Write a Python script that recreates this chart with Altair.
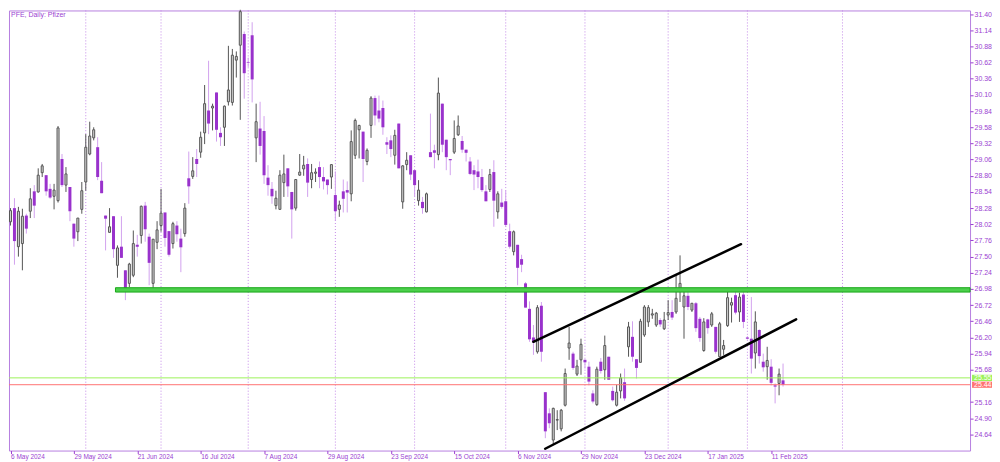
import json
import altair as alt
import pandas as pd

# ---- OHLC data (PFE daily, one entry per trading day from 6 May 2024) ----
opens = [28.06, 28.28, 27.66, 27.71, 28.16, 28.23, 28.55, 28.54, 28.85, 28.81,
         28.59, 28.47, 28.40, 29.07, 28.65, 28.62, 28.03, 27.90, 28.26, 28.70,
         29.15, 29.41, 29.26, 28.72, 28.16, 27.89, 28.15, 27.36, 27.66, 27.28,
         27.07, 27.20, 27.69, 27.84, 28.32, 27.82, 27.07, 27.73, 28.00, 28.21,
         27.91, 27.71, 28.00, 27.79, 27.87, 28.76, 28.79, 29.07, 29.18, 29.49,
         29.85, 29.89, 30.14, 29.49, 29.58, 29.99, 29.98, 30.66, 30.90, 31.08,
         30.63, 31.06, 29.41, 29.56, 29.52, 28.77, 28.59, 28.32, 28.26, 28.69,
         28.92, 28.54, 28.28, 28.81, 28.91, 28.99, 28.74, 28.84, 28.94, 28.78,
         28.74, 28.78, 28.49, 28.26, 28.55, 28.57, 28.51, 29.13, 29.54, 29.51,
         29.03, 29.61, 30.05, 29.85, 29.89, 29.34, 29.37, 29.13, 29.64, 28.38,
         28.98, 29.13, 28.89, 28.40, 28.38, 28.22, 29.18, 29.21, 29.14, 29.96,
         29.38, 29.07, 29.18, 29.46, 29.36, 29.22, 29.03, 28.89, 28.87, 28.78,
         28.55, 28.58, 28.86, 28.22, 28.37, 28.39, 27.91, 27.58, 27.69, 27.46,
         27.07, 26.66, 26.20, 25.97, 26.71, 25.32, 24.98, 24.55, 24.87, 24.73,
         25.11, 26.03, 25.94, 25.61, 25.84, 25.84, 25.73, 25.30, 25.12, 25.81,
         25.68, 25.89, 25.34, 25.11, 25.34, 25.48, 26.05, 26.21, 25.85, 25.80,
         26.24, 26.45, 26.56, 26.40, 26.48, 26.34, 26.56, 26.61, 26.61, 26.96,
         26.69, 26.87, 26.64, 26.75, 26.50, 25.99, 26.49, 26.40, 26.37, 25.89,
         26.01, 26.39, 26.72, 26.88, 26.61, 26.89, 26.20, 26.18, 25.95, 26.32,
         25.81, 25.73, 25.73, 25.43, 25.46, 25.51]
highs = [28.28, 28.44, 28.30, 28.27, 28.19, 28.60, 28.65, 28.92, 28.99, 28.81,
         28.67, 28.67, 29.60, 29.15, 28.94, 28.62, 28.03, 28.12, 28.70, 29.47,
         29.67, 29.58, 29.42, 29.02, 28.16, 28.28, 28.15, 27.68, 28.15, 27.28,
         27.40, 27.92, 27.85, 28.32, 28.38, 27.87, 27.78, 28.07, 28.59, 28.21,
         27.91, 28.06, 28.07, 27.95, 28.36, 29.19, 29.10, 29.23, 29.51, 30.26,
         30.65, 29.96, 30.14, 29.58, 29.93, 30.89, 30.84, 30.80, 31.47, 31.12,
         30.70, 31.27, 29.96, 29.99, 29.76, 28.97, 28.70, 28.56, 28.89, 29.14,
         28.92, 28.54, 28.74, 29.15, 29.12, 29.08, 28.99, 28.92, 29.03, 28.94,
         28.74, 28.98, 28.87, 28.40, 28.74, 28.71, 29.53, 29.72, 29.62, 29.51,
         29.24, 30.08, 30.09, 30.09, 30.01, 29.42, 29.45, 29.54, 29.64, 28.97,
         29.18, 29.13, 28.89, 28.73, 28.46, 28.53, 29.80, 29.30, 30.38, 29.96,
         29.38, 29.07, 29.69, 29.77, 29.44, 29.22, 29.10, 28.97, 29.06, 28.91,
         28.65, 28.91, 29.05, 28.55, 28.59, 28.56, 28.03, 27.92, 27.69, 27.53,
         27.09, 26.78, 26.40, 26.72, 26.77, 25.32, 25.06, 25.07, 25.03, 25.05,
         25.70, 26.37, 25.97, 25.84, 26.18, 25.85, 25.81, 25.35, 25.73, 25.87,
         26.23, 25.89, 25.41, 25.44, 25.62, 25.70, 26.45, 26.46, 25.85, 26.50,
         26.72, 26.72, 26.66, 26.61, 26.51, 26.61, 26.80, 26.80, 27.20, 27.52,
         26.96, 26.94, 26.75, 26.77, 26.53, 26.51, 26.50, 26.61, 26.37, 26.45,
         26.16, 26.94, 26.84, 26.93, 26.92, 26.93, 26.22, 26.85, 26.62, 26.33,
         25.94, 26.05, 25.85, 25.46, 25.70, 25.78]
lows = [28.00, 27.37, 27.50, 27.28, 27.87, 28.12, 28.12, 28.53, 28.78, 28.48,
        28.43, 28.26, 28.37, 28.62, 28.54, 28.07, 27.66, 27.75, 28.19, 28.56,
        29.13, 29.37, 28.73, 28.52, 27.60, 27.89, 27.48, 27.16, 27.48, 26.80,
        27.01, 27.17, 27.50, 27.71, 27.74, 27.04, 27.00, 27.62, 27.90, 27.66,
        27.50, 27.63, 27.74, 27.25, 27.82, 28.35, 28.75, 28.78, 29.09, 29.31,
        29.47, 29.53, 29.35, 29.28, 29.28, 29.93, 29.93, 30.38, 29.70, 30.04,
        30.55, 29.98, 29.02, 29.14, 28.67, 28.48, 28.35, 28.26, 28.26, 28.46,
        28.46, 27.79, 28.24, 28.80, 28.80, 28.46, 28.60, 28.70, 28.60, 28.58,
        28.50, 28.59, 28.08, 28.14, 28.21, 28.21, 28.39, 29.07, 29.08, 28.70,
        28.97, 29.41, 29.61, 29.66, 29.46, 29.15, 29.10, 28.98, 28.92, 28.27,
        28.89, 28.73, 28.46, 28.32, 28.19, 28.21, 29.10, 28.92, 29.05, 29.18,
        28.89, 28.81, 29.15, 29.44, 29.17, 29.03, 28.81, 28.57, 28.60, 28.54,
        28.39, 28.54, 27.98, 28.11, 28.27, 27.98, 27.63, 27.52, 27.04, 27.25,
        26.68, 26.13, 25.92, 25.94, 25.81, 24.58, 24.74, 24.48, 24.71, 24.69,
        25.09, 25.84, 25.68, 25.58, 25.60, 25.70, 25.43, 25.14, 25.10, 25.62,
        25.52, 25.52, 25.17, 25.09, 25.22, 25.18, 25.89, 25.81, 25.54, 25.80,
        26.21, 26.37, 26.50, 26.37, 26.37, 26.32, 26.48, 26.48, 26.58, 26.77,
        26.18, 26.64, 26.61, 26.29, 26.13, 25.97, 26.26, 26.37, 25.94, 25.89,
        25.92, 26.37, 26.44, 26.57, 26.45, 26.35, 26.17, 25.62, 25.70, 25.78,
        25.65, 25.52, 25.43, 25.14, 25.27, 25.41]
closes = [28.24, 27.75, 28.23, 28.15, 27.95, 28.43, 28.32, 28.81, 28.96, 28.55,
          28.45, 28.57, 29.57, 28.65, 28.83, 28.23, 27.79, 28.12, 28.56, 29.26,
          29.44, 29.54, 28.78, 28.52, 28.11, 27.98, 27.62, 27.64, 27.48, 26.99,
          27.38, 27.71, 27.66, 28.31, 27.94, 27.40, 27.78, 27.93, 28.20, 27.80,
          27.53, 28.03, 27.86, 27.65, 28.28, 28.63, 28.88, 28.99, 29.42, 29.96,
          29.64, 29.92, 29.54, 29.42, 29.92, 30.18, 30.74, 30.72, 31.44, 30.45,
          30.62, 30.35, 29.67, 29.28, 28.81, 28.65, 28.47, 28.44, 28.81, 28.83,
          28.63, 28.26, 28.74, 28.86, 28.97, 28.69, 28.85, 28.86, 28.78, 28.71,
          28.65, 28.98, 28.23, 28.33, 28.43, 28.53, 29.35, 29.69, 29.61, 29.07,
          29.21, 30.05, 29.77, 29.72, 29.58, 29.30, 29.23, 29.45, 28.92, 28.96,
          29.05, 28.82, 28.65, 28.57, 28.28, 28.51, 29.10, 29.17, 30.13, 29.30,
          29.10, 29.05, 29.40, 29.60, 29.22, 29.17, 28.83, 28.82, 28.78, 28.57,
          28.39, 28.82, 28.40, 28.51, 28.30, 28.01, 27.66, 27.90, 27.32, 27.37,
          26.68, 26.17, 26.12, 26.68, 25.97, 24.69, 24.82, 25.06, 24.88, 25.03,
          25.62, 26.11, 25.71, 25.74, 26.09, 25.80, 25.49, 25.17, 25.69, 25.66,
          26.07, 25.52, 25.19, 25.32, 25.55, 25.22, 26.37, 25.89, 25.71, 26.46,
          26.69, 26.68, 26.58, 26.59, 26.41, 26.48, 26.60, 26.52, 26.83, 27.07,
          26.87, 26.69, 26.75, 26.35, 26.19, 26.45, 26.35, 26.58, 25.97, 26.42,
          26.07, 26.84, 26.76, 26.60, 26.85, 26.45, 26.18, 25.86, 26.45, 25.90,
          25.72, 25.83, 25.47, 25.41, 25.61, 25.44]

# ---- axis labels ----
tick_bars = [0, 16, 32, 48, 64, 80, 96, 112, 128, 144, 160, 176, 192]
tick_labels = ["6 May 2024", "29 May 2024", "21 Jun 2024", "16 Jul 2024",
               "7 Aug 2024", "29 Aug 2024", "23 Sep 2024", "15 Oct 2024",
               "6 Nov 2024", "29 Nov 2024", "23 Dec 2024", "17 Jan 2025",
               "11 Feb 2025"]
price_ticks = [31.40, 31.14, 30.88, 30.62, 30.36, 30.10, 29.84, 29.58, 29.32,
               29.06, 28.80, 28.54, 28.28, 28.02, 27.76, 27.50, 27.24, 26.98,
               26.72, 26.46, 26.20, 25.94, 25.68, 25.16, 24.90, 24.64]
month_start_bars = [19, 38, 60, 82, 102, 125, 145, 166, 186, 210]

# ---- drawn objects ----
zone_start_bar = [26.5]
zone_low = [26.93]
zone_high = [27.00]
level_prices = [25.55, 25.44]
level_names = ["green", "red"]
trend_x1 = [131.97, 134.96]
trend_y1 = [26.13, 24.41]
trend_x2 = [184.4, 198.3]
trend_y2 = [27.70, 26.49]
chart_title = "PFE, Daily:  Pfizer"

# ---- styles ----
TXT = "#9b3fd2"
FRAME = "#b77fe0"
GRID = "#c48ae8"
BEAR = "#9932cc"
BEAR_WICK = "#d2a2ee"
BULL_FILL = "#d4d4d4"
BULL_LINE = "#555555"
FONT = "Liberation Sans"
W, H = 963, 441

df = pd.DataFrame({"bar": list(range(len(opens))), "open": opens,
                   "high": highs, "low": lows, "close": closes})

xs = alt.Scale(domain=[-0.378, 242.2], nice=False, zero=False, padding=0)
ys = alt.Scale(domain=[24.381, 31.459], nice=False, zero=False, padding=0)

label_expr = f"{json.dumps(tick_labels)}[indexof({json.dumps(tick_bars)}, datum.value)]"
x_axis = alt.Axis(values=tick_bars, labelExpr=label_expr, orient="bottom",
                  title=None, grid=False, domain=False, tickSize=3,
                  tickColor=TXT, labelColor=TXT, labelFont=FONT,
                  labelFontSize=6.5, labelAlign="left", labelBaseline="top",
                  labelPadding=0, labelFlush=False, labelOverlap=False,
                  labelBound=False)
y_axis = alt.Axis(values=price_ticks, format=".2f", orient="right",
                  title=None, grid=False, domain=False, tickSize=3,
                  tickColor=TXT, labelColor=TXT, labelFont=FONT,
                  labelFontSize=7, labelPadding=1, labelFlush=False,
                  labelOverlap=False, labelBound=False)

X = alt.X("bar:Q", scale=xs, axis=x_axis)

base = alt.Chart(df)

months = alt.Chart(pd.DataFrame({"bar": month_start_bars})).mark_rule(
    color=GRID, strokeWidth=1, strokeDash=[1, 2]).encode(x=X)

wick_bull = base.transform_filter("datum.close >= datum.open").mark_rule(
    color=BULL_LINE, strokeWidth=1).encode(
    x=X, y=alt.Y("low:Q", scale=ys, axis=y_axis), y2="high:Q")
wick_bear = base.transform_filter("datum.close < datum.open").mark_rule(
    color=BEAR_WICK, strokeWidth=1).encode(
    x=X, y=alt.Y("low:Q", scale=ys, axis=y_axis), y2="high:Q")
body_bull = base.transform_filter("datum.close >= datum.open").mark_bar(
    size=2, fill=BULL_FILL, stroke=BULL_LINE, strokeWidth=1).encode(
    x=X, y=alt.Y("open:Q", scale=ys, axis=y_axis), y2="close:Q")
body_bear = base.transform_filter("datum.close < datum.open").mark_bar(
    size=3, fill=BEAR, strokeWidth=0).encode(
    x=X, y=alt.Y("open:Q", scale=ys, axis=y_axis), y2="close:Q")

zone = alt.Chart(pd.DataFrame({"bar": zone_start_bar, "lo": zone_low,
                               "hi": zone_high})).mark_rect(
    fill="#4ccf4c", stroke="#18a818", strokeWidth=1).encode(
    x=X, x2=alt.value(W), y=alt.Y("lo:Q", scale=ys, axis=y_axis), y2="hi:Q")

levels_df = pd.DataFrame({"price": level_prices, "name": level_names})
level_colors = alt.Scale(domain=level_names, range=["#9cf25a", "#ff7373"])
levels = alt.Chart(levels_df).mark_rule(strokeWidth=1).encode(
    y=alt.Y("price:Q", scale=ys, axis=y_axis),
    color=alt.Color("name:N", scale=level_colors, legend=None))

trends = alt.Chart(pd.DataFrame({"x1": trend_x1, "y1": trend_y1,
                                 "x2": trend_x2, "y2": trend_y2})).mark_rule(
    color="black", strokeWidth=2.5, strokeCap="round").encode(
    x=alt.X("x1:Q", scale=xs, axis=x_axis), x2="x2:Q",
    y=alt.Y("y1:Q", scale=ys, axis=y_axis), y2="y2:Q")

box_colors = alt.Scale(domain=level_names, range=["#7ee03a", "#f01818"])
boxes = alt.Chart(levels_df).transform_calculate(
    lo="datum.price - 0.05", hi="datum.price + 0.05").mark_rect().encode(
    x=alt.value(W + 2), x2=alt.value(W + 22),
    y=alt.Y("lo:Q", scale=ys, axis=y_axis), y2="hi:Q",
    color=alt.Color("name:N", scale=box_colors, legend=None))
box_text = alt.Chart(levels_df).mark_text(
    align="left", baseline="middle", font=FONT, fontSize=7,
    color="white").encode(
    x=alt.value(W + 4), y=alt.Y("price:Q", scale=ys, axis=y_axis),
    text=alt.Text("price:Q", format=".2f"))

title = alt.Chart(pd.DataFrame({"t": [chart_title]})).mark_text(
    align="left", baseline="middle", font=FONT, fontSize=7, color=TXT).encode(
    x=alt.value(2), y=alt.value(5), text="t:N")

chart = alt.layer(months, wick_bull, wick_bear, body_bull, body_bear, zone,
                  levels, trends, boxes, box_text, title).properties(
    width=W, height=H,
    padding={"left": 0, "top": 0, "right": 0, "bottom": 0},
    background="white",
).configure_view(stroke=FRAME, strokeWidth=1)

chart.save("out.html", embed_options={"renderer": "svg", "actions": False})
